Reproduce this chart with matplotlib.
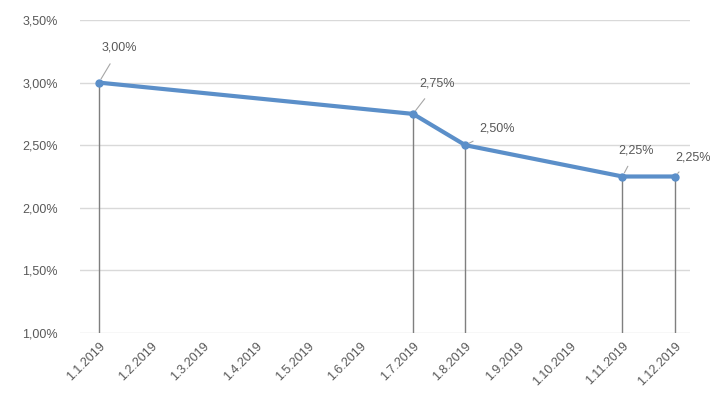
import matplotlib.pyplot as plt

# data
months = ['1.1.2019', '1.2.2019', '1.3.2019', '1.4.2019', '1.5.2019', '1.6.2019',
          '1.7.2019', '1.8.2019', '1.9.2019', '1.10.2019', '1.11.2019', '1.12.2019']
point_months = [0, 6, 7, 10, 11]
rates = [3.00, 2.75, 2.50, 2.25, 2.25]
y_ticks = [1.0, 1.5, 2.0, 2.5, 3.0, 3.5]

def fmt(v):
    return '{:.2f}%'.format(v).replace('.', ',')

plt.rcParams['font.family'] = ['Liberation Sans', 'DejaVu Sans']

fig = plt.figure(figsize=(7.11, 4.01), dpi=100)
ax = fig.add_axes([80 / 711, 1 - 333 / 401, 610 / 711, 313 / 401])

txt = '#595959'
grid = '#d9d9d9'

ax.set_ylim(1.0, 3.5)
ax.set_xlim(-0.36, 11.29)
ax.set_yticks(y_ticks)
ax.set_yticklabels([fmt(v) for v in y_ticks])
ax.set_xticks(range(len(months)))
ax.set_xticklabels(months, rotation=45, ha='right', va='top', rotation_mode='anchor')
ax.tick_params(length=0, colors=txt, labelsize=9)
ax.tick_params(axis='x', pad=5)
ax.tick_params(axis='y', pad=16)
for s in ax.spines.values():
    s.set_visible(False)
ax.grid(axis='y', color=grid, linewidth=1)
ax.set_axisbelow(True)

# drop lines
ax.vlines(point_months, 1.0, rates, color='#7f7f7f', linewidth=1, zorder=2)

ax.plot(point_months, rates, color='#5b8fc9', linewidth=3, marker='o', markersize=5,
        markerfacecolor='#5b8fc9', zorder=3, solid_capstyle='round')

# labels with leader lines (offsets in points)
offsets = [(15, 25), (17, 22), (23, 12), (10, 19), (13, 14)]
for x, y, (dx, dy) in zip(point_months, rates, offsets):
    ax.annotate(fmt(y), (x, y), xytext=(dx, dy), textcoords='offset points',
                ha='center', va='center', fontsize=9, color=txt,
                arrowprops=dict(arrowstyle='-', color='#a6a6a6', lw=0.8,
                                shrinkA=6, shrinkB=3))

fig.savefig('out.png', dpi=100)
